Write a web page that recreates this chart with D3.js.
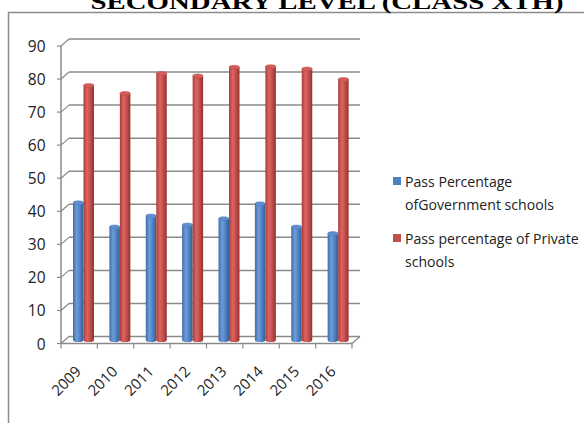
<!DOCTYPE html>
<html><head><meta charset="utf-8">
<script src="https://cdn.jsdelivr.net/npm/d3@7"></script>
<style>body{margin:0;background:#fff;}svg{display:block;}</style>
</head><body>
<svg id="c" width="584" height="423"></svg>
<script>
const years = ["2009","2010","2011","2012","2013","2014","2015","2016"];
const govValues = [41.5, 34.2, 37.5, 34.8, 36.7, 41.2, 34.2, 32.2];
const privValues = [77.0, 74.6, 80.6, 79.9, 82.5, 82.7, 82.0, 78.8];
const yTicks = [0,10,20,30,40,50,60,70,80,90];
const seriesNames = ["Pass Percentage\nofGovernment schools", "Pass percentage of Private\nschools"];
const titleText = "SECONDARY LEVEL (CLASS XTH)";

const svg = d3.select("#c");
const defs = svg.append("defs");
function grad(id, stops){
  const g = defs.append("linearGradient").attr("id", id).attr("x1","0").attr("x2","1").attr("y1","0").attr("y2","0");
  stops.forEach(s => g.append("stop").attr("offset", s[0]).attr("stop-color", s[1]));
}
grad("gBlue", [[0,"#3f6cab"],[0.35,"#6d9ddb"],[0.6,"#5588c8"],[1,"#345d95"]]);
grad("gRed", [[0,"#a83d3a"],[0.35,"#dc6562"],[0.6,"#c9514e"],[1,"#923331"]]);
const topCol = ["#5f8fd0","#d35d5a"];
const sideGrad = ["url(#gBlue)","url(#gRed)"];

// frame
svg.append("path").attr("d","M8.5,423 V12.5 H584").attr("fill","none").attr("stroke","#8c8c8c").attr("stroke-width",1.5);

// title (cut off at the top edge, as in the reference)
svg.append("text").attr("x", 327).attr("y", 9).attr("text-anchor","middle")
  .attr("font-family","'Liberation Serif', 'Times New Roman', serif").attr("font-weight","bold")
  .attr("font-size", 22).attr("textLength", 473).attr("lengthAdjust","spacingAndGlyphs")
  .text(titleText);

const x0 = 61, x1 = 352, dx = 8, dy = -7;
const x = d3.scaleBand().domain(years).range([x0, x1]).paddingInner(0).paddingOuter(0);
const y = d3.scaleLinear().domain([0, 90]).range([343.5, 46]);
const gridCol = "#8a8a8a";

const g = svg.append("g");
// back gridlines
yTicks.forEach(t => {
  g.append("line").attr("x1", x0+dx).attr("x2", x1+dx).attr("y1", y(t)+dy).attr("y2", y(t)+dy)
   .attr("stroke", gridCol).attr("stroke-width", 1.5);
  g.append("line").attr("x1", x0).attr("x2", x0+dx).attr("y1", y(t)).attr("y2", y(t)+dy)
   .attr("stroke", gridCol).attr("stroke-width", 1.2);
  g.append("line").attr("x1", x0-4).attr("x2", x0).attr("y1", y(t)).attr("y2", y(t))
   .attr("stroke", gridCol).attr("stroke-width", 1.2);
});
// floor
g.append("line").attr("x1", x0).attr("x2", x1).attr("y1", y(0)).attr("y2", y(0)).attr("stroke", gridCol).attr("stroke-width",1.5);
g.append("line").attr("x1", x1).attr("x2", x1+dx).attr("y1", y(0)).attr("y2", y(0)+dy).attr("stroke", gridCol).attr("stroke-width",1.2);
// y axis line
g.append("line").attr("x1", x0).attr("x2", x0).attr("y1", y(0)).attr("y2", y(90)).attr("stroke", gridCol).attr("stroke-width",1.5);
// x ticks
[...years.map(d => x(d)), x1].forEach(v => {
  g.append("line").attr("x1", v).attr("x2", v).attr("y1", y(0)).attr("y2", y(0)+5).attr("stroke", gridCol).attr("stroke-width",1.2);
});

// y labels
yTicks.forEach(t => {
  svg.append("text").attr("x", 45.5).attr("y", y(t)+6).attr("text-anchor","end")
    .attr("font-family","'Open Sans', sans-serif").attr("font-size", 15.5).attr("fill","#222").text(t);
});
// x labels
years.forEach(d => {
  const cx = x(d) + x.bandwidth()/2 + 3, cy = y(0) + 29;
  svg.append("text").attr("transform", `translate(${cx},${cy}) rotate(-45)`).attr("text-anchor","end")
    .attr("font-family","'Open Sans', sans-serif").attr("font-size", 15).attr("fill","#222").text(d);
});

// bars (cylinders) at mid depth
const bw = 10.5, ry = 2;
const series = [govValues, privValues];
const yb = v => y(v) + dy/2;
years.forEach((d, i) => {
  series.forEach((vals, s) => {
    const left = x(d) + 12 + s*bw;
    const top = yb(vals[i]), base = yb(0);
    const bg = g.append("g");
    bg.append("path").attr("d", `M${left},${top} V${base} A${bw/2},${ry} 0 0 0 ${left+bw},${base} V${top} Z`)
      .attr("fill", sideGrad[s]);
    bg.append("ellipse").attr("cx", left+bw/2).attr("cy", top).attr("rx", bw/2).attr("ry", ry)
      .attr("fill", topCol[s]).attr("stroke", s===0?"#4a78b5":"#b84744").attr("stroke-width",0.5);
  });
});

// legend
const legCol = ["#4f81bd","#c0504d"];
const legY = [181, 238];
seriesNames.forEach((name, s) => {
  svg.append("rect").attr("x", 393).attr("y", legY[s]-4).attr("width", 8).attr("height", 8).attr("fill", legCol[s]);
  name.split("\n").forEach((line, k) => {
    svg.append("text").attr("x", 405).attr("y", legY[s] + 5.5 + k*23)
      .attr("font-family","'Open Sans', sans-serif").attr("font-size", 14.1).attr("fill","#222").text(line);
  });
});
</script>
</body></html>
